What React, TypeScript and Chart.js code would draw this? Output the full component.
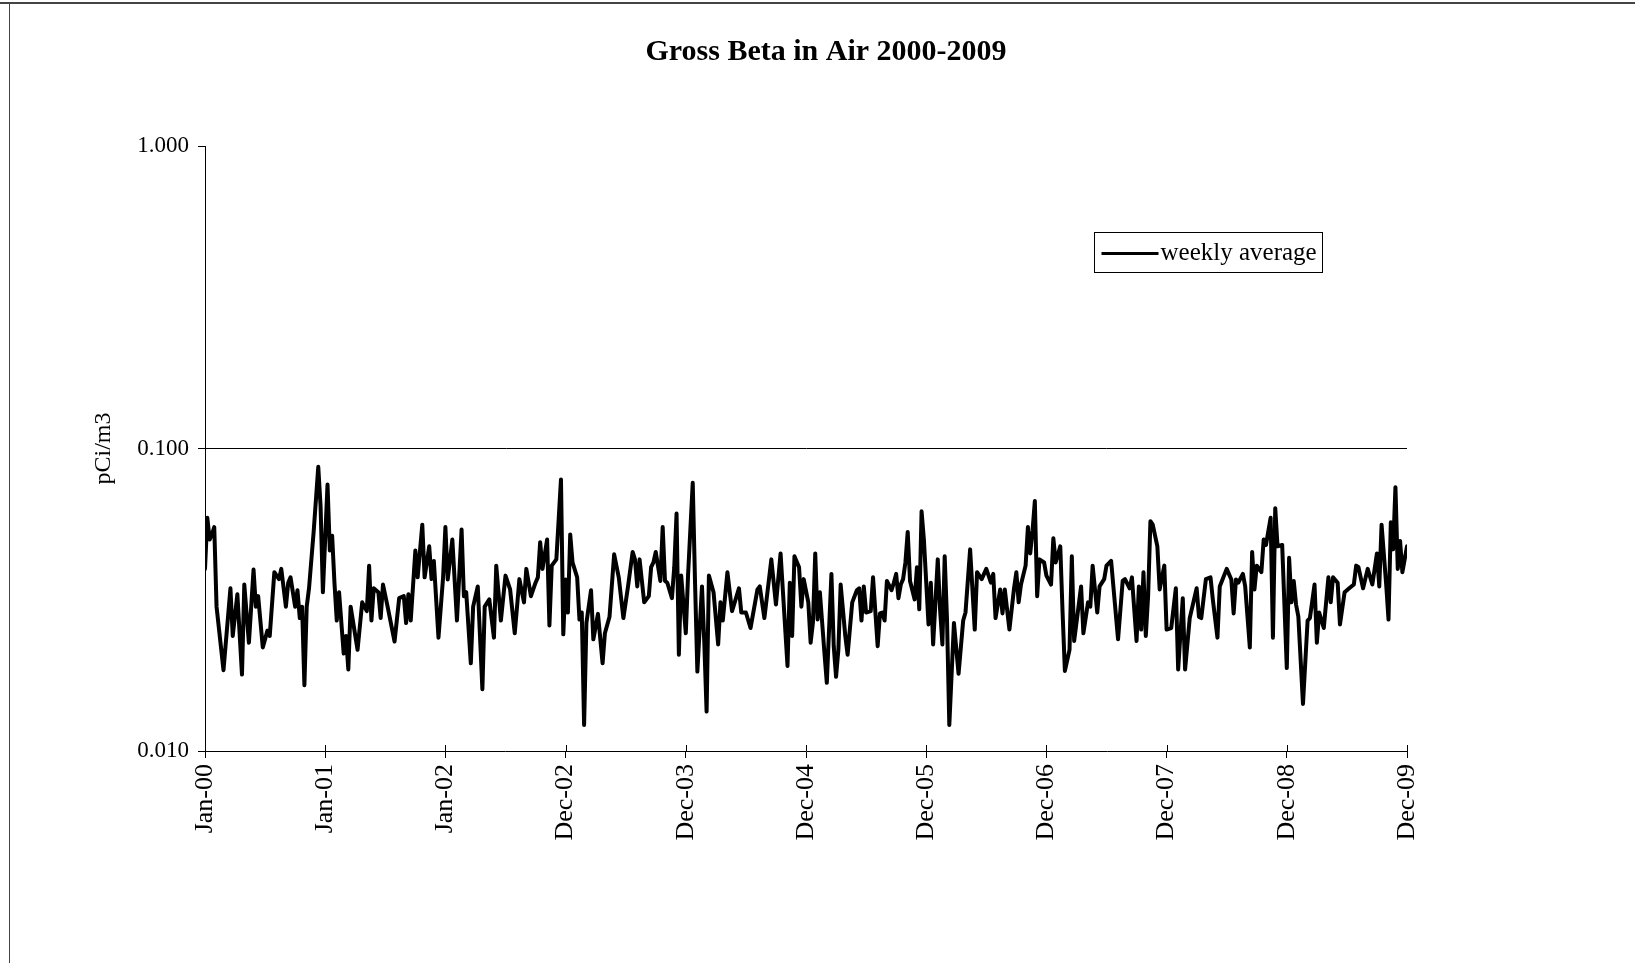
import React, { useEffect, useRef } from "react";
import { Chart, registerables } from "chart.js";

Chart.register(...registerables);

const chartTitle = "Gross Beta in Air 2000-2009";
const yAxisTitle = "pCi/m3";
const seriesName = "weekly average";
const xTickLabels = ["Jan-00", "Jan-01", "Jan-02", "Dec-02", "Dec-03", "Dec-04", "Dec-05", "Dec-06", "Dec-07", "Dec-08", "Dec-09"];
const yTickValues = [0.01, 0.1, 1];
const weeksPerTick = 52;

// week index (0 = Jan-00) of each read vertex
const weeks = [
  0, 1, 2, 3, 4, 5, 8, 11, 12, 14, 16, 17, 19, 21, 22, 23, 25, 27, 28, 30, 32, 33, 35, 36, 37, 39, 40, 41, 42, 43, 44, 45, 47, 49, 50, 51, 53, 54, 55, 56, 57, 58, 60, 61, 62, 63,
  66, 68, 70, 71, 72, 73, 75, 76, 77, 79, 82, 84, 86, 87, 88, 89, 91, 92, 94, 95, 97, 98, 99, 101, 103, 104, 105, 107, 109, 111, 112, 113, 115, 116, 118, 120, 121, 123, 125, 126, 128, 130,
  132, 134, 135, 136, 138, 139, 141, 143, 144, 145, 146, 148, 149, 150, 152, 154, 155, 156, 157, 158, 159, 161, 162, 163, 164, 165, 167, 168, 170, 172, 173, 175, 177, 179, 181, 183, 185, 186, 187, 188, 190, 192, 193,
  194, 195, 197, 198, 199, 200, 202, 203, 204, 205, 206, 208, 209, 211, 212, 213, 215, 216, 217, 218, 220, 222, 223, 224, 226, 228, 231, 232, 234, 236, 239, 240, 242, 245, 247, 249, 252, 253, 254, 255, 257,
  258, 259, 261, 262, 263, 264, 265, 266, 268, 269, 271, 272, 273, 274, 275, 277, 278, 280, 282, 283, 284, 285, 286, 288, 289, 291, 292, 293, 294, 295, 297, 298, 299, 300, 301, 302, 303, 304, 305, 307, 308, 309, 310, 311, 313, 314, 315, 317, 318, 319, 320, 321, 322,
  324, 326, 328, 329, 331, 333, 334, 336, 338, 340, 341, 342, 344, 345, 346, 348, 350, 351, 352, 353, 355, 356, 357, 358, 359, 360, 361, 363, 364, 366, 367, 368, 370, 371, 372, 374, 375, 376, 379, 380, 382, 383, 384, 386, 387,
  389, 390, 392, 395, 397, 398, 400, 401, 403, 404, 405, 406, 407, 408, 409, 410, 412, 413, 415, 416, 418, 420, 421, 423, 424, 426, 429, 430, 431, 433, 435, 436, 438, 439, 442, 444, 445, 446, 447, 449, 450, 452, 453,
  454, 455, 457, 458, 459, 461, 462, 463, 464, 466, 468, 469, 470, 471, 472, 473, 475, 477, 478, 480, 481, 482, 484, 486, 487, 488, 490, 491, 493, 495, 497, 498, 499, 501, 503, 505, 507, 508, 509, 511, 512, 513, 514, 515, 516, 517, 518, 520,
];

// pCi/m3 at each vertex
const values = [
  0.04, 0.059, 0.05, 0.052, 0.055, 0.03, 0.0185, 0.0345, 0.024, 0.033, 0.0179, 0.0355, 0.0228, 0.0398, 0.03, 0.0325, 0.022, 0.025, 0.024, 0.039, 0.037, 0.04, 0.03, 0.036, 0.0375, 0.03, 0.034, 0.0275, 0.03, 0.0165, 0.03, 0.0345, 0.053, 0.087, 0.0645, 0.0335, 0.076, 0.046, 0.0515, 0.036, 0.027, 0.0335, 0.021, 0.024, 0.0186, 0.03,
  0.0216, 0.031, 0.029, 0.041, 0.027, 0.0345, 0.0335, 0.0275, 0.0355, 0.03, 0.023, 0.032, 0.0325, 0.0265, 0.033, 0.027, 0.046, 0.0375, 0.056, 0.0375, 0.0475, 0.037, 0.0425, 0.0237, 0.0375, 0.055, 0.0369, 0.05, 0.027, 0.054, 0.0325, 0.0335, 0.0195, 0.03, 0.035, 0.016, 0.03, 0.0317, 0.0237, 0.041, 0.027, 0.038,
  0.0342, 0.0245, 0.03, 0.037, 0.031, 0.04, 0.0325, 0.036, 0.0375, 0.049, 0.04, 0.05, 0.026, 0.041, 0.043, 0.079, 0.0243, 0.0369, 0.0287, 0.052, 0.042, 0.0375, 0.0272, 0.0287, 0.0122, 0.0265, 0.034, 0.0234, 0.0284, 0.0195, 0.0245, 0.0278, 0.0447, 0.0375, 0.0275, 0.035, 0.0455, 0.043, 0.035, 0.043, 0.031, 0.0325, 0.0405,
  0.042, 0.0455, 0.0365, 0.055, 0.0365, 0.036, 0.032, 0.0405, 0.061, 0.0208, 0.038, 0.0245, 0.0385, 0.077, 0.036, 0.0183, 0.035, 0.0228, 0.0135, 0.038, 0.0335, 0.0225, 0.031, 0.027, 0.039, 0.029, 0.0345, 0.0287, 0.0287, 0.0255, 0.0342, 0.035, 0.0275, 0.043, 0.0305, 0.045, 0.0191, 0.036, 0.024, 0.044, 0.0405,
  0.03, 0.037, 0.031, 0.0228, 0.0266, 0.045, 0.0272, 0.0335, 0.021, 0.0168, 0.0385, 0.0222, 0.0176, 0.0216, 0.0355, 0.024, 0.0208, 0.031, 0.034, 0.0345, 0.027, 0.035, 0.0287, 0.029, 0.0375, 0.0222, 0.0285, 0.0287, 0.027, 0.0365, 0.034, 0.036, 0.0385, 0.032, 0.0355, 0.037, 0.042, 0.053, 0.0365, 0.0317, 0.0405, 0.0294, 0.062, 0.05, 0.0262, 0.036, 0.0225, 0.043, 0.0294, 0.0225, 0.044, 0.0272, 0.0122,
  0.0265, 0.018, 0.027, 0.0287, 0.0464, 0.0252, 0.039, 0.037, 0.04, 0.036, 0.0385, 0.0275, 0.0342, 0.0285, 0.0342, 0.0252, 0.0345, 0.039, 0.031, 0.0355, 0.041, 0.055, 0.045, 0.0535, 0.067, 0.0325, 0.043, 0.042, 0.038, 0.0355, 0.0505, 0.042, 0.0475, 0.0287, 0.0184, 0.0216, 0.044, 0.0231, 0.035, 0.0245, 0.031, 0.03, 0.041, 0.0287, 0.035,
  0.037, 0.041, 0.0425, 0.0234, 0.0365, 0.037, 0.0345, 0.0375, 0.0231, 0.035, 0.0252, 0.039, 0.024, 0.0325, 0.0575, 0.056, 0.0475, 0.0342, 0.041, 0.0252, 0.0255, 0.0345, 0.0186, 0.032, 0.0186, 0.0275, 0.0345, 0.0278, 0.0275, 0.037, 0.0375, 0.0317, 0.0237, 0.035, 0.04, 0.0369, 0.0285, 0.0369, 0.036, 0.0385, 0.035, 0.022, 0.0455,
  0.0342, 0.041, 0.039, 0.05, 0.048, 0.059, 0.0237, 0.0635, 0.0475, 0.048, 0.0188, 0.0435, 0.031, 0.0365, 0.0305, 0.0278, 0.0143, 0.027, 0.0275, 0.0355, 0.0228, 0.0287, 0.0255, 0.0375, 0.031, 0.0375, 0.036, 0.0262, 0.0335, 0.0345, 0.0355, 0.041, 0.0405, 0.0345, 0.04, 0.0355, 0.045, 0.035, 0.056, 0.0355, 0.0272, 0.057, 0.0464, 0.0745, 0.04, 0.0495, 0.039, 0.0475,
];

const serif = '"Liberation Serif", "Times New Roman", Times, serif';

const decorPlugin = {
  id: "decor",
  afterDraw(chart: any) {
    const { ctx, chartArea, scales } = chart;
    ctx.save();
    // chart title
    ctx.fillStyle = "#000";
    ctx.font = `bold 30px ${serif}`;
    ctx.textAlign = "center";
    ctx.textBaseline = "middle";
    ctx.fillText(chartTitle, 826, 52);
    // inner half of x tick marks (Excel-style crossing ticks)
    ctx.strokeStyle = "#000";
    ctx.lineWidth = 1;
    xTickLabels.forEach((_, i) => {
      const px = Math.round(scales.x.getPixelForValue(i * weeksPerTick)) + 0.5;
      ctx.beginPath();
      ctx.moveTo(px, chartArea.bottom);
      ctx.lineTo(px, chartArea.bottom - 6);
      ctx.stroke();
    });
    // legend box
    const lx = 1094.5, ly = 232.5, lw = 228, lh = 40;
    ctx.fillStyle = "#fff";
    ctx.fillRect(lx, ly, lw, lh);
    ctx.strokeRect(lx, ly, lw, lh);
    ctx.lineWidth = 3;
    ctx.beginPath();
    ctx.moveTo(lx + 7, ly + 21);
    ctx.lineTo(lx + 64, ly + 21);
    ctx.stroke();
    ctx.fillStyle = "#000";
    ctx.font = `25px ${serif}`;
    ctx.textBaseline = "middle";
    ctx.textAlign = "left";
    ctx.fillText(seriesName, lx + 66, ly + 21);
    ctx.restore();
  },
};

export default function App() {
  const canvasRef = useRef<HTMLCanvasElement | null>(null);

  useEffect(() => {
    const canvas = canvasRef.current;
    if (!canvas) return;
    const points = weeks.map((w, i) => ({ x: w, y: values[i] }));
    const chart = new Chart(canvas, {
      type: "line",
      data: {
        datasets: [
          {
            label: seriesName,
            data: points,
            borderColor: "#000",
            backgroundColor: "#000",
            borderWidth: 4,
            pointRadius: 0,
            tension: 0,
            borderJoinStyle: "round",
            borderCapStyle: "round",
          },
        ],
      },
      options: {
        responsive: false,
        animation: false,
        devicePixelRatio: 1,
        layout: { padding: { left: 0, right: 228, top: 146, bottom: 0 } },
        plugins: {
          legend: { display: false },
          tooltip: { enabled: false },
          title: { display: false },
        },
        scales: {
          x: {
            type: "linear",
            min: 0,
            max: xTickLabels.length * weeksPerTick - weeksPerTick,
            afterFit(scale: any) {
              scale.height = 212;
            },
            ticks: {
              stepSize: weeksPerTick,
              autoSkip: false,
              minRotation: 90,
              maxRotation: 90,
              padding: 6,
              color: "#000",
              font: { family: serif, size: 26 },
              callback: (v: any) => xTickLabels[Math.round(Number(v) / weeksPerTick)] ?? "",
            },
            grid: {
              drawOnChartArea: false,
              tickLength: 7,
              tickColor: "#000",
              color: "#000",
            },
            border: { display: true, color: "#000", width: 1 },
          },
          y: {
            type: "logarithmic",
            min: 0.01,
            max: 1,
            afterFit(scale: any) {
              scale.width = 205;
            },
            afterBuildTicks(scale: any) {
              scale.ticks = yTickValues.map((v) => ({ value: v }));
            },
            ticks: {
              padding: 9,
              color: "#000",
              font: { family: serif, size: 23 },
              callback: (v: any) => Number(v).toFixed(3),
            },
            grid: {
              tickLength: 7,
              tickColor: "#000",
              color: (c: any) => (c.tick && Math.abs(c.tick.value - 0.1) < 1e-9 ? "#000" : "rgba(0,0,0,0)"),
              lineWidth: 1,
            },
            border: { display: true, color: "#000", width: 1 },
            title: {
              display: true,
              text: yAxisTitle,
              color: "#000",
              font: { family: serif, size: 24, lineHeight: 1.2 },
              padding: { top: 89, bottom: 0 },
            },
          },
        },
      },
      plugins: [decorPlugin],
    });
    return () => chart.destroy();
  }, []);

  return (
    <div style={{ position: "absolute", left: 0, top: 0, width: 1635, height: 963, background: "#fff" }}>
      <canvas ref={canvasRef} width={1635} height={963} style={{ position: "absolute", left: 0, top: 0 }} />
      <div style={{ position: "absolute", left: 0, top: 2, width: 1635, height: 0, borderTop: "2px solid #444" }} />
      <div style={{ position: "absolute", left: 9, top: 2, width: 0, height: 961, borderLeft: "1px solid #444" }} />
    </div>
  );
}
